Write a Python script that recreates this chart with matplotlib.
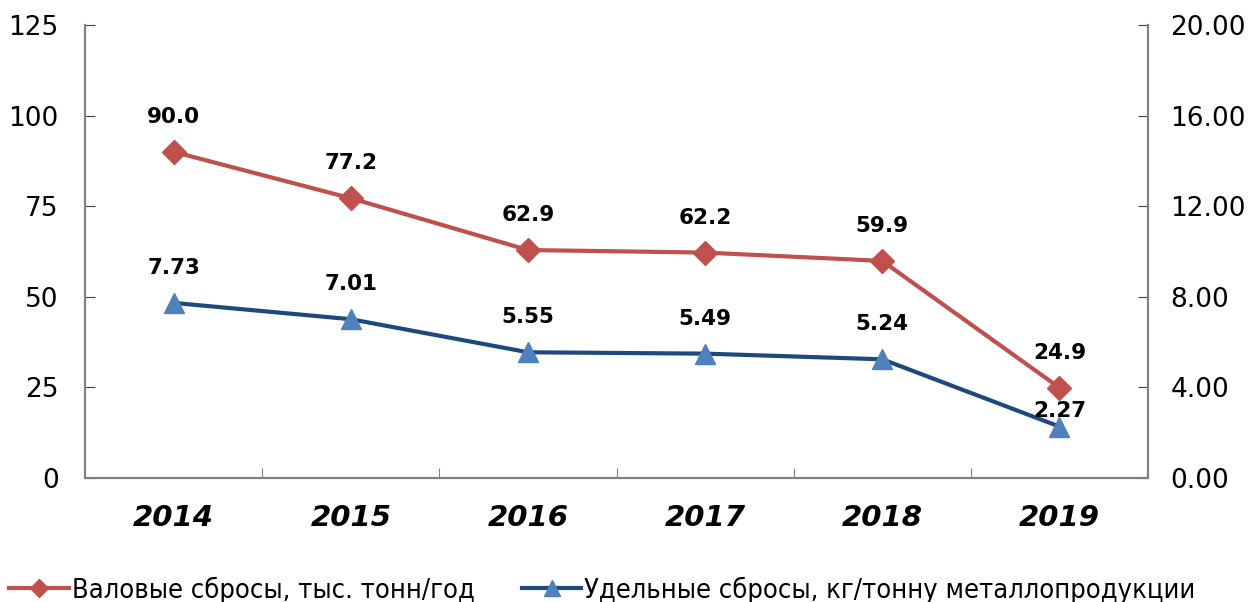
import matplotlib.pyplot as plt

years = ['2014', '2015', '2016', '2017', '2018', '2019']
gross = [90.0, 77.2, 62.9, 62.2, 59.9, 24.9]
specific = [7.73, 7.01, 5.55, 5.49, 5.24, 2.27]
gross_label = 'Валовые сбросы, тыс. тонн/год'
specific_label = 'Удельные сбросы, кг/тонну металлопродукции'

RED = '#C0504D'
BLUE_LINE = '#1F497D'
BLUE_FILL = '#4F81BD'
SPINE = '#808080'

fig = plt.figure(figsize=(12.54, 6.02), dpi=100)
ax = fig.add_axes([0.0678, 0.206, 0.8477, 0.7525])
ax2 = ax.twinx()

x = list(range(len(years)))

ax.plot(x, gross, color=RED, lw=3, marker='D', ms=12, mfc=RED, mec=RED, zorder=3)
ax2.plot(x, specific, color=BLUE_LINE, lw=3, marker='^', ms=15, mfc=BLUE_FILL, mec=BLUE_FILL, zorder=3)

for xi, v in zip(x, gross):
    ax.annotate(f'{v:.1f}', (xi, v), xytext=(0, 18), textcoords='offset points',
                ha='center', va='bottom', fontsize=15.5, fontweight='bold')
for xi, v in zip(x, specific):
    # last label sits lower so it clears the 2019 diamond
    dy = 4 if xi == x[-1] else 18
    ax2.annotate(f'{v:.2f}', (xi, v), xytext=(0, dy), textcoords='offset points',
                 ha='center', va='bottom', fontsize=15.5, fontweight='bold', zorder=5)

ax.set_xlim(-0.5, len(years) - 0.5)
ax.set_ylim(0, 125)
ax.set_yticks([0, 25, 50, 75, 100, 125])
ax2.set_ylim(0, 20)
ax2.set_yticks([0, 4, 8, 12, 16, 20])
ax2.set_yticklabels([f'{t:.2f}' for t in [0, 4, 8, 12, 16, 20]])

# category labels in the middle, tick marks on the boundaries
ax.set_xticks([i + 0.5 for i in x[:-1]])
ax.set_xticklabels([])
ax.set_xticks(x, minor=True)
ax.set_xticklabels(years, minor=True, fontsize=21, fontweight='bold', style='italic')
ax.tick_params(axis='x', which='minor', length=0, pad=19)
ax.tick_params(axis='x', which='major', direction='in', length=7, color=SPINE)

ax.tick_params(axis='y', direction='in', length=7, labelsize=19, pad=19, color='#404040')
ax2.tick_params(axis='y', direction='in', length=7, labelsize=19, pad=16, color='#404040')

for a in (ax, ax2):
    a.spines['top'].set_visible(False)
    for s in ('left', 'right', 'bottom'):
        a.spines[s].set_color(SPINE)
        a.spines[s].set_linewidth(1.5)

h1, = ax.plot([], [], color=RED, lw=3, marker='D', ms=9, mfc=RED, mec=RED)
h2, = ax.plot([], [], color=BLUE_LINE, lw=3, marker='^', ms=11, mfc=BLUE_FILL, mec=BLUE_FILL)
fig.legend([h1, h2], [gross_label, specific_label], loc='center left',
           bbox_to_anchor=(-0.012, 0.02), ncol=2, frameon=False, handlelength=2.2,
           handletextpad=0.1, columnspacing=1.75,
           prop={'family': 'DejaVu Sans', 'stretch': 'condensed', 'size': 19.5})

fig.savefig('out.png', dpi=100)
